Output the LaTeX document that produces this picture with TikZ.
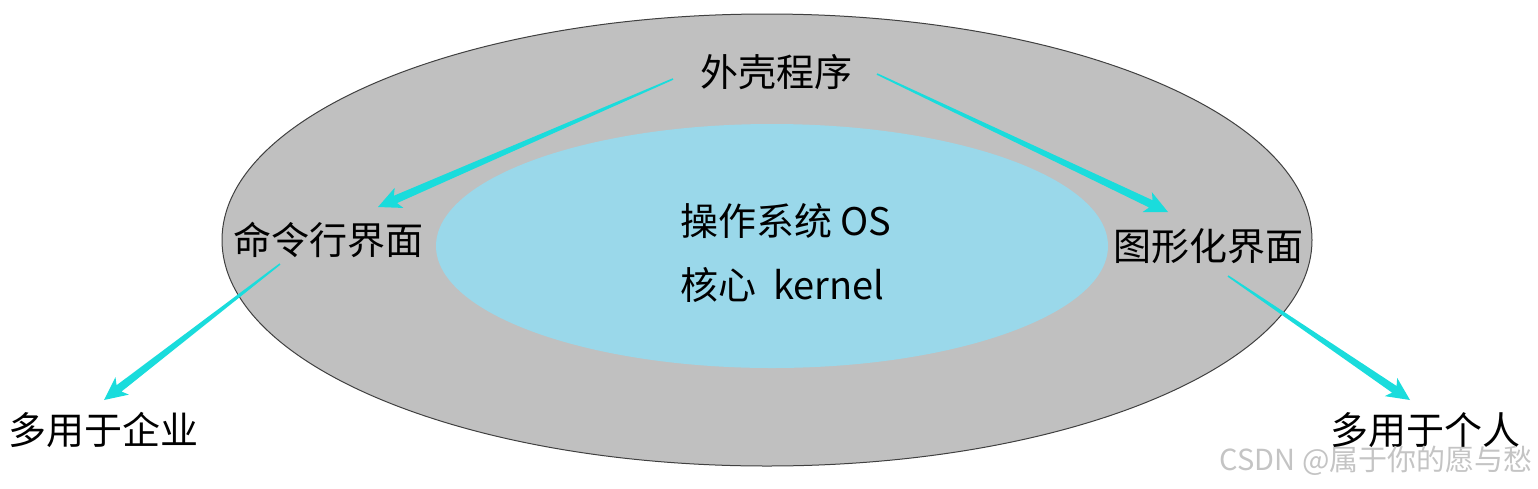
\documentclass[tikz,border=0pt]{standalone}
\usepackage{fontspec}
\setmainfont{Noto Sans CJK SC}
\usetikzlibrary{calc}
\definecolor{outerfill}{HTML}{C0C0C0}
\definecolor{outerline}{HTML}{404040}
\definecolor{innerfill}{HTML}{9AD8EA}
\definecolor{arrowcol}{HTML}{1ADCDC}
\definecolor{wmark}{HTML}{C4C4C4}
\newcommand{\taperarrow}[2]{%
  \coordinate (tmpc) at ($(#2)!19pt!(#1)$);
  \coordinate (tmpd) at ($(#2)!23pt!(#1)$);
  \fill[arrowcol]
    ($(#1)!0.8pt!90:(#2)$) -- ($(tmpc)!4pt!90:(#2)$) -- ($(tmpd)!11pt!90:(#2)$) --
    (#2) -- ($(tmpd)!11pt!-90:(#2)$) -- ($(tmpc)!4pt!-90:(#2)$) --
    ($(#1)!0.8pt!-90:(#2)$) -- cycle;
}
\tikzset{
  lbl/.style={font=\fontsize{38}{40}\selectfont, inner sep=0pt},
  wm/.style={font=\fontsize{29}{30}\selectfont, inner sep=0pt, text=wmark}
}
\begin{document}
\begin{tikzpicture}[x=1pt,y=-1pt]
\useasboundingbox (0,0) rectangle (1538,488);
\fill[outerfill, draw=outerline, line width=1pt] (767,240) ellipse [x radius=545, y radius=226];
\fill[innerfill] (772,246) ellipse [x radius=336, y radius=122];

\node[lbl] (shell) at (776,72) {外壳程序};
\node[lbl] (cli) at (328,240) {命令行界面};
\node[lbl] (gui) at (1208,246) {图形化界面};
\node[lbl, anchor=west] (os) at (680,221) {操作系统 OS};
\node[lbl, anchor=west] (kern) at (680,285) {核心\ \ kernel};
\node[lbl] (ent) at (104,430) {多用于企业};
\node[lbl] (per) at (1425,430) {多用于个人};
\node[wm, anchor=east] (water) at (1533,461) {CSDN @属于你的愿与愁};

\coordinate (a1s) at (673,79);  \coordinate (a1e) at (378,207);
\coordinate (a2s) at (877,74);  \coordinate (a2e) at (1168,212);
\coordinate (a3s) at (280,264); \coordinate (a3e) at (104,400);
\coordinate (a4s) at (1228,276);\coordinate (a4e) at (1410,400);
\taperarrow{a1s}{a1e}
\taperarrow{a2s}{a2e}
\taperarrow{a3s}{a3e}
\taperarrow{a4s}{a4e}
\end{tikzpicture}
\end{document}
